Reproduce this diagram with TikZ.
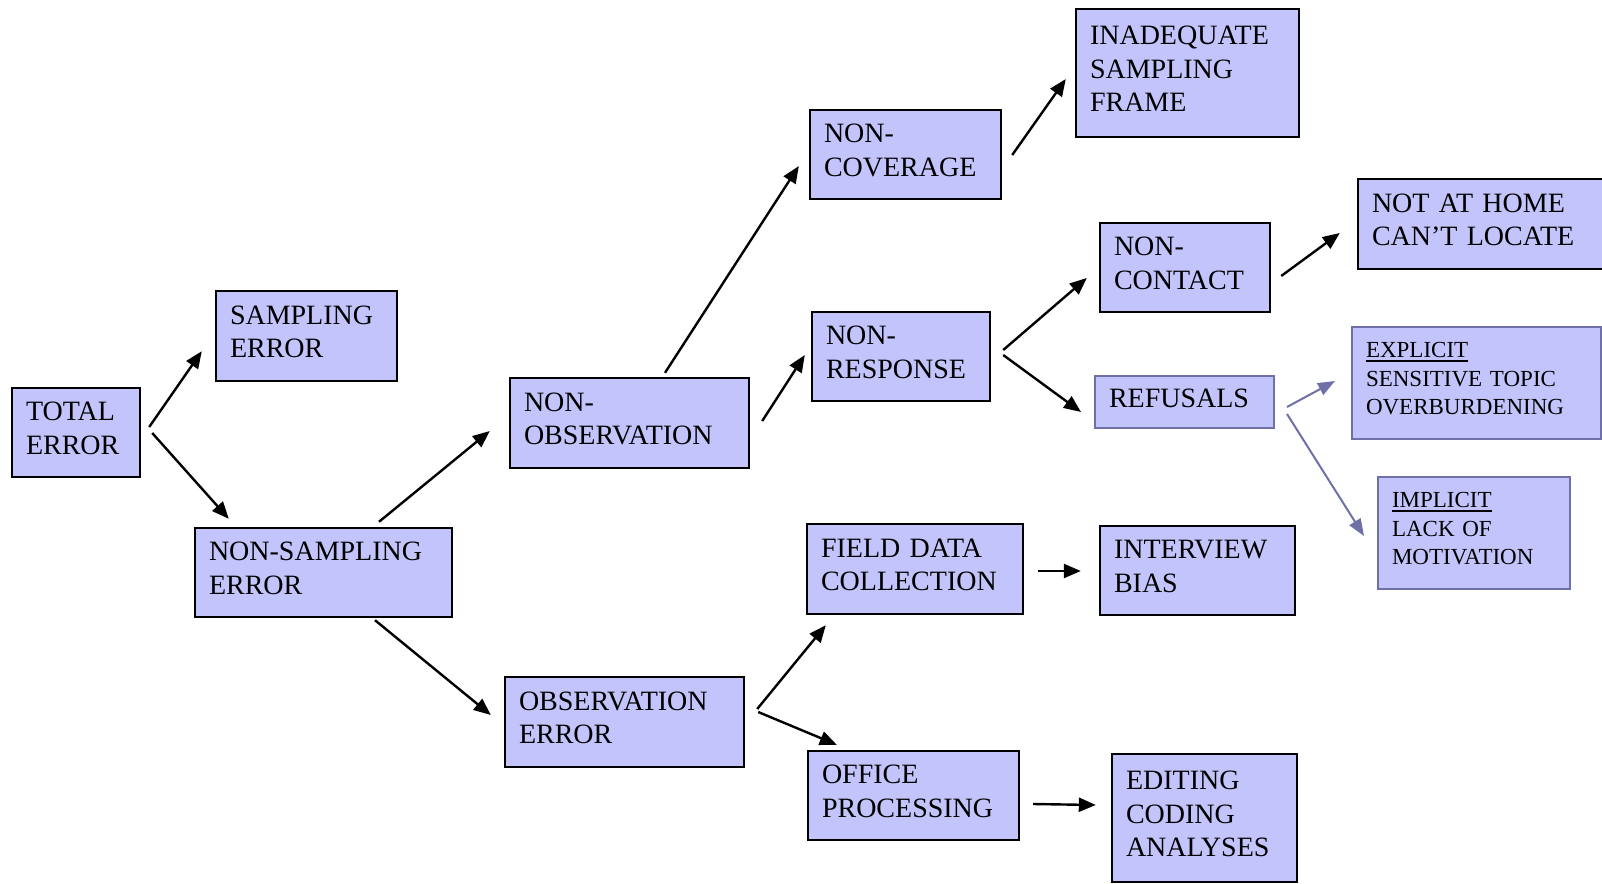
\documentclass[tikz,border=0pt]{standalone}
\usepackage{fontspec}
\setmainfont{Liberation Serif}
\usetikzlibrary{arrows.meta,calc}
\definecolor{boxfill}{RGB}{196,196,252}
\definecolor{purp}{RGB}{112,112,168}
\newcommand{\myul}[1]{\setbox0\hbox{#1}\rlap{\vrule width\wd0 height -2.5pt depth 4pt}\box0}
\newcommand{\padend}{\endgraf\vspace*{8pt}}
\begin{document}
\begin{tikzpicture}[x=1pt,y=-1pt,
  box/.style={draw=black, line width=2.4pt, fill=boxfill, inner xsep=14pt, inner ysep=2pt,
    align=left, font=\fontsize{28}{33.7}\selectfont, execute at end node={\padend}},
  pbox/.style={box, draw=purp, line width=2pt},
  small/.style={font=\fontsize{23}{28.5}\selectfont},
  arr/.style={line width=2.4pt, -{Triangle[length=17pt,width=14pt]}},
  parr/.style={line width=2pt, draw=purp, -{Triangle[length=17pt,width=13pt]}}]
\useasboundingbox (0,0) rectangle (1602,883);
\clip (0,0) rectangle (1602,883);
% nodes
\node[box, minimum width=128pt, minimum height=89pt, text width=100pt] (tot) at (76,432.5) {TOTAL\\ERROR};
\node[box, minimum width=181pt, minimum height=90pt, text width=153pt] (samp) at (306.5,336) {SAMPLING\\ERROR};
\node[box, minimum width=257pt, minimum height=89pt, text width=229pt] (nons) at (323.5,572.5) {NON-SAMPLING\\ERROR};
\node[box, minimum width=239pt, minimum height=90pt, text width=211pt] (nobs) at (629.5,423) {NON-\\OBSERVATION};
\node[box, minimum width=239pt, minimum height=90pt, text width=211pt] (obs) at (624.5,722) {OBSERVATION\\ERROR};
\node[box, minimum width=191pt, minimum height=89pt, text width=163pt] (ncov) at (905.5,154.5) {NON-\\COVERAGE};
\node[box, minimum width=178pt, minimum height=89pt, text width=150pt] (nresp) at (901,356.5) {NON-\\RESPONSE};
\node[box, minimum width=216pt, minimum height=90pt, text width=188pt] (field) at (915,569) {FIELD DATA\\COLLECTION};
\node[box, minimum width=211pt, minimum height=89pt, text width=183pt] (office) at (913.5,795.5) {OFFICE\\PROCESSING};
\node[box, minimum width=195pt, minimum height=89pt, text width=167pt] (intv) at (1197.5,570.5) {INTERVIEW\\BIAS};
\node[box, minimum width=185pt, minimum height=128pt, text width=157pt] (edit) at (1204.5,818) {EDITING\\CODING\\ANALYSES};
\node[box, minimum width=223pt, minimum height=128pt, text width=195pt] (inad) at (1187.5,73) {INADEQUATE\\SAMPLING\\FRAME};
\node[box, minimum width=251pt, minimum height=90pt, text width=223pt] (nothome) at (1483.5,224) {NOT AT HOME\\CAN’T LOCATE};
\node[box, minimum width=170pt, minimum height=89pt, text width=142pt] (ncont) at (1185,267.5) {NON-\\CONTACT};
\node[pbox, minimum width=179pt, minimum height=52pt, text width=151pt] (ref) at (1184.5,402) {REFUSALS};
\node[pbox, small, minimum width=249pt, minimum height=112pt, text width=221pt] (expl) at (1476.5,383) {\myul{EXPLICIT}\\SENSITIVE TOPIC\\OVERBURDENING};
\node[pbox, small, minimum width=192pt, minimum height=112pt, text width=164pt] (impl) at (1474,533) {\myul{IMPLICIT}\\LACK OF\\MOTIVATION};
% connectors
\draw[arr] ($(tot.east)+(8,-5.5)$) -- ($(samp.south west)+(-13,-31)$);
\draw[arr] ($(tot.east)+(11,0.5)$) -- ($(nons.north west)+(35,-8)$);
\draw[arr] ($(nons.north)+(55.5,-5)$) -- ($(nobs.west)+(-19,8)$);
\draw[arr] ($(nons.south)+(51.5,2)$) -- ($(obs.west)+(-13,-7)$);
\draw[arr] ($(nobs.north)+(35.5,-4)$) -- ($(ncov.west)+(-10,11.5)$);
\draw[arr] ($(nobs.east)+(12,-2)$) -- ($(nresp.west)+(-6,-1.5)$);
\draw[arr] ($(ncov.east)+(10,0.5)$) -- ($(inad.west)+(-9,6)$);
\draw[arr] ($(nresp.east)+(12,-6.5)$) -- ($(ncont.west)+(-12,10.5)$);
\draw[arr] ($(nresp.east)+(12,-1.5)$) -- ($(ref.west)+(-13,10)$);
\draw[arr] ($(ncont.east)+(10,8.5)$) -- ($(nothome.west)+(-17,9)$);
\draw[parr] ($(ref.east)+(12,5)$) -- ($(expl.west)+(-16,-2)$);
\draw[parr] ($(ref.east)+(12,12)$) -- ($(impl.west)+(-13,3)$);
\draw[arr] ($(obs.east)+(12,-13)$) -- ($(field.south west)+(20,10)$);
\draw[arr] ($(obs.east)+(13,-10)$) -- ($(office.north west)+(30,-5)$);
\draw[arr] ($(field.east)+(14,2)$) -- ($(intv.west)+(-18,0.5)$);
\draw[arr] ($(office.east)+(13,8.5)$) -- ($(edit.west)+(-15,-13)$);
\end{tikzpicture}
\end{document}
